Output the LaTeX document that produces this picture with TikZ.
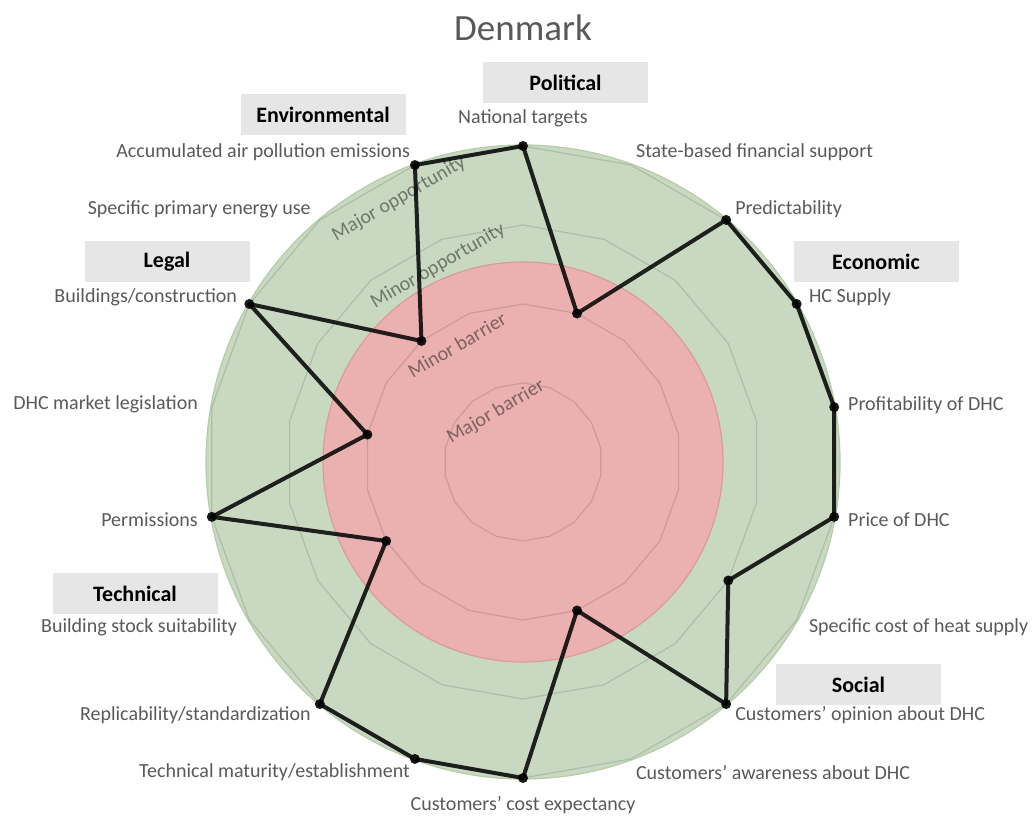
\documentclass[tikz,border=0pt]{standalone}
\usepackage{fontspec}
\setmainfont{Carlito}
\usepackage{xcolor}
\usepackage{tikz}
\usetikzlibrary{positioning}

\definecolor{txtgrey}{HTML}{595959}
\definecolor{catgrey}{HTML}{E7E6E6}
\definecolor{oppgreen}{HTML}{C9D9C1}
\definecolor{oppedge}{HTML}{B6CCAB}
\definecolor{barred}{HTML}{EBB1B0}
\definecolor{baredge}{HTML}{D99C9B}

\tikzset{
	lbl/.style={text=txtgrey,inner sep=0pt,font=\fontsize{20}{24}\selectfont},
	catbox/.style={fill=catgrey,minimum width=165pt,minimum height=41pt,inner sep=0pt,font=\fontsize{22}{26}\selectfont\bfseries},
	ringlbl/.style={text=black,text opacity=.45,rotate=30,inner sep=0pt,font=\fontsize{20}{24}\selectfont},
	gridline/.style={black,opacity=.13,line width=1.2pt},
	dataline/.style={black,opacity=.85,line width=4pt,line join=round},
	datadot/.style={circle,fill=black,opacity=.9,inner sep=0pt,minimum size=10pt}
}

\begin{document}
\begin{tikzpicture}[x=1pt,y=1pt]
	\useasboundingbox (0,0) rectangle (1035,816);
	\node[text=txtgrey,font=\fontsize{37}{44}\selectfont] (title) at (523,788) {Denmark};
	\begin{scope}[shift={(523,354)}]
	% zones
	\fill[oppgreen,draw=oppedge,line width=1.2pt] (0,0) circle (317);
	\fill[barred,draw=baredge,line width=1.2pt] (0,0) circle (200);
	% grid rings
	\foreach \r in {79,158,237,316}
		\draw[gridline] (90:\r) \foreach \a in {70,50,...,-250} {-- (\a:\r)} -- cycle;
	% scores
	\coordinate (p1) at (90:316);
	\coordinate (p2) at (70:158);
	\coordinate (p3) at (50:316);
	\coordinate (p4) at (30:316);
	\coordinate (p5) at (10:316);
	\coordinate (p6) at (-10:316);
	\coordinate (p7) at (-30:237);
	\coordinate (p8) at (-50:316);
	\coordinate (p9) at (-70:158);
	\coordinate (p10) at (-90:316);
	\coordinate (p11) at (-110:316);
	\coordinate (p12) at (-130:316);
	\coordinate (p13) at (-150:158);
	\coordinate (p14) at (-170:316);
	\coordinate (p15) at (-190:158);
	\coordinate (p16) at (-210:316);
	\coordinate (p17) at (-230:158);
	\coordinate (p18) at (-250:316);
	\draw[dataline] (p1) -- (p2) -- (p3) -- (p4) -- (p5) -- (p6) -- (p7) -- (p8) -- (p9)
		-- (p10) -- (p11) -- (p12) -- (p13) -- (p14) -- (p15) -- (p16) -- (p17) -- (p18) -- cycle;
	\foreach \i in {1,...,18}
		\node[datadot] (d\i) at (p\i) {};
	% ring names
	\node[ringlbl] (majBar) at (-27,50) {Major barrier};
	\node[ringlbl] (minBar) at (-66,117) {Minor barrier};
	\node[ringlbl] (minOpp) at (-85,196) {Minor opportunity};
	\node[ringlbl] (majOpp) at (-124,263) {Major opportunity};
	% axis labels
	\node[lbl] (natTargets) at (90:344) {National targets};
	\node[lbl,anchor=west] (stateSupport) at (70:330) {State-based financial support};
	\node[lbl,anchor=west] (predict) at (50:330) {Predictability};
	\node[lbl,anchor=west] (hcSupply) at (30:330) {HC Supply};
	\node[lbl,anchor=west] (profit) at (10:330) {Profitability of DHC};
	\node[lbl,anchor=west] (price) at (-10:330) {Price of DHC};
	\node[lbl,anchor=west] (heatCost) at (-30:330) {Specific cost of heat supply};
	\node[lbl,anchor=west] (opinion) at (-50:330) {Customers’ opinion about DHC};
	\node[lbl,anchor=west] (awareness) at (-70:330) {Customers’ awareness about DHC};
	\node[lbl] (costExp) at (-90:343) {Customers’ cost expectancy};
	\node[lbl,anchor=east] (maturity) at (-110:330) {Technical maturity/establishment};
	\node[lbl,anchor=east] (replic) at (-130:330) {Replicability/standardization};
	\node[lbl,anchor=east] (stock) at (-150:330) {Building stock suitability};
	\node[lbl,anchor=east] (permits) at (-170:330) {Permissions};
	\node[lbl,anchor=east] (marketLeg) at (-190:330) {DHC market legislation};
	\node[lbl,anchor=east] (buildings) at (-210:330) {Buildings/construction};
	\node[lbl,anchor=east] (primEnergy) at (-230:330) {Specific primary energy use};
	\node[lbl,anchor=east] (airPoll) at (-250:330) {Accumulated air pollution emissions};
	\end{scope}
	% categories
	\node[catbox] (political) at (565.5,733.5) {Political};
	\node[catbox] (environmental) at (323,701) {Environmental};
	\node[catbox] (economic) at (876,554) {Economic};
	\node[catbox] (legal) at (167,554) {Legal};
	\node[catbox] (technical) at (135,222.5) {Technical};
	\node[catbox] (social) at (858.5,131) {Social};
\end{tikzpicture}
\end{document}
